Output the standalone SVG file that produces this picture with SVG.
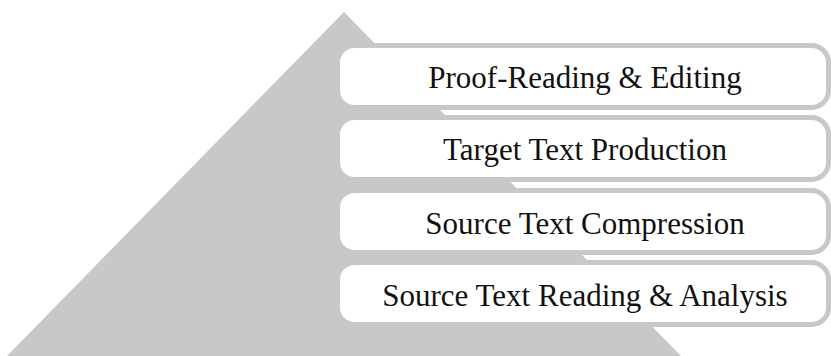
<svg xmlns="http://www.w3.org/2000/svg" width="831" height="356" viewBox="0 0 831 356">
<style>
.box{fill:#ffffff;stroke:#c7c8ca;stroke-width:5}
.lbl{font-family:"Liberation Serif","Times New Roman",serif;font-size:31px;fill:#111111;text-anchor:middle}
</style>
<rect width="831" height="356" fill="#ffffff"/>
<g id="pyramid">
<polygon points="344,12 6,357 682,357" fill="#c7c8ca"/>
</g>
<g id="connectors"></g>
<g id="node-proofreading">
<rect class="box" x="337.5" y="45.5" width="491" height="62" rx="17"/>
<text class="lbl" x="585" y="88">Proof-Reading &amp; Editing</text>
</g>
<g id="node-target">
<rect class="box" x="337.5" y="117.5" width="491" height="62" rx="17"/>
<text class="lbl" x="585" y="160">Target Text Production</text>
</g>
<g id="node-compression">
<rect class="box" x="337.5" y="190.5" width="491" height="62" rx="17"/>
<text class="lbl" x="585" y="234">Source Text Compression</text>
</g>
<g id="node-reading">
<rect class="box" x="337.5" y="262.5" width="491" height="62" rx="17"/>
<text class="lbl" x="585" y="306">Source Text Reading &amp; Analysis</text>
</g>
</svg>
